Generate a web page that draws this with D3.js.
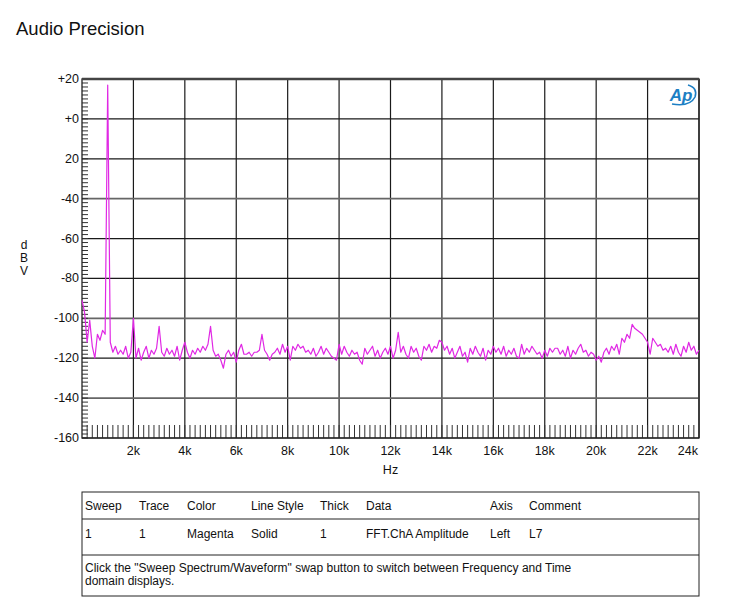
<!DOCTYPE html>
<html lang="en">
  <head>
    <meta charset="utf-8">
    <title>Audio Precision</title>
    <script src="https://cdn.jsdelivr.net/npm/d3@7"></script>
    <style>
      body { margin: 0; background: #fff; }
      text { font-family: 'Liberation Sans', Arial, sans-serif; fill: #111; }
    </style>
  </head>

  <body>
    <div id='chart'></div>

    <script type='text/javascript'>
      // FFT amplitude, one value every 100 Hz from 0 to 24 kHz (dBV)
      let freqStep = 100
      let levels = [
        -91, -97, -112, -101, -114, -120, -108, -111, -106, -108,
        17, -112, -117, -114, -118, -116, -118, -114, -120, -117,
        -100, -120, -115, -121, -117, -114, -120, -116, -118, -115,
        -104, -117, -119, -115, -118, -116, -119, -114, -121, -116,
        -112, -117, -120, -116, -118, -115, -117, -114, -116, -113,
        -104, -116, -119, -118, -121, -125, -118, -116, -119, -117,
        -122, -116, -113, -118, -118, -117, -119, -117, -117, -116,
        -108, -116, -118, -121, -118, -117, -115, -118, -113, -117,
        -114, -121, -114, -116, -113, -115, -114, -117, -116, -118,
        -115, -119, -117, -114, -118, -115, -117, -119, -120, -121,
        -113, -118, -114, -117, -119, -116, -118, -117, -121, -123,
        -115, -118, -116, -114, -119, -116, -120, -117, -115, -118,
        -114, -120, -116, -107, -117, -114, -118, -120, -114, -117,
        -115, -119, -121, -114, -116, -113, -117, -114, -115, -111,
        -112, -116, -114, -118, -115, -120, -117, -114, -119, -117,
        -122, -115, -118, -114, -117, -119, -115, -121, -116, -118,
        -114, -117, -115, -118, -114, -119, -116, -118, -115, -119,
        -120, -113, -118, -115, -117, -114, -116, -118, -117, -120,
        -116, -119, -115, -117, -115, -115, -118, -116, -119, -114,
        -120, -116, -118, -115, -113, -117, -116, -119, -117, -118,
        -121, -119, -122, -117, -115, -118, -114, -116, -113, -118,
        -110, -112, -108, -110, -103, -105, -106, -107, -108, -110,
        -112, -118, -110, -112, -114, -113, -116, -115, -117, -114,
        -118, -113, -117, -119, -114, -117, -112, -116, -114, -118,
        -116
      ]

      let yTicks = [20, 0, -20, -40, -60, -80, -100, -120, -140, -160]
      let yTickLabels = ['+20', '+0', '20', '-40', '-60', '-80', '-100', '-120', '-140', '-160']
      let xTicks = [2000, 4000, 6000, 8000, 10000, 12000, 14000, 16000, 18000, 20000, 22000, 24000]
      let xTickLabels = ['2k', '4k', '6k', '8k', '10k', '12k', '14k', '16k', '18k', '20k', '22k', '24k']

      let tableHeader = ['Sweep', 'Trace', 'Color', 'Line Style', 'Thick', 'Data', 'Axis', 'Comment']
      let tableRow = ['1', '1', 'Magenta', 'Solid', '1', 'FFT.ChA Amplitude', 'Left', 'L7']
      let noteLines = ['Click the "Sweep Spectrum/Waveform" swap button to switch between Frequency and Time',
                       'domain displays.']

      let width = 750
      let height = 613
      let plotLeft = 82, plotRight = 699, plotTop = 79, plotBottom = 438

      let canvas = d3.select('#chart').append('svg')
        .attr('width', width)
        .attr('height', height)

      let scale_x = d3.scaleLinear()
          .domain([0, 24000])
          .range([plotLeft, plotRight])
      let scale_y = d3.scaleLinear()
          .domain([-160, 20])
          .range([plotBottom, plotTop])

      canvas.append('text')
        .attr('x', 16)
        .attr('y', 35)
        .attr('font-size', '18.5px')
        .text('Audio Precision')

      // grid
      canvas.selectAll('line.vgrid')
        .data(xTicks)
        .enter()
        .append('line')
        .attr('x1', (d) => scale_x(d))
        .attr('x2', (d) => scale_x(d))
        .attr('y1', plotTop)
        .attr('y2', plotBottom)
        .attr('stroke', '#1a1a1a')
        .attr('stroke-width', 1.2)
      canvas.selectAll('line.hgrid')
        .data(yTicks)
        .enter()
        .append('line')
        .attr('x1', plotLeft)
        .attr('x2', plotRight)
        .attr('y1', (d) => scale_y(d))
        .attr('y2', (d) => scale_y(d))
        .attr('stroke', (d) => (d == -40 || d == -100 || d == -140) ? '#666' : '#1a1a1a')
        .attr('stroke-width', (d) => (d == -40 || d == -100 || d == -140) ? 1.8 : 1.2)

      // minor ticks
      canvas.selectAll('line.ytick')
        .data(d3.range(-160, 21, 2))
        .enter()
        .append('line')
        .attr('x1', plotLeft)
        .attr('x2', plotLeft + 6)
        .attr('y1', (d) => scale_y(d))
        .attr('y2', (d) => scale_y(d))
        .attr('stroke', '#333')
        .attr('stroke-width', 1)
      canvas.selectAll('line.xtick')
        .data(d3.range(200, 24000, 200))
        .enter()
        .append('line')
        .attr('x1', (d) => scale_x(d))
        .attr('x2', (d) => scale_x(d))
        .attr('y1', plotBottom)
        .attr('y2', plotBottom - 13)
        .attr('stroke', '#333')
        .attr('stroke-width', 1)

      // frame
      canvas.append('rect')
        .attr('x', plotLeft)
        .attr('y', plotTop)
        .attr('width', plotRight - plotLeft)
        .attr('height', plotBottom - plotTop)
        .attr('fill', 'none')
        .attr('stroke', '#222')
        .attr('stroke-width', 1.3)
      canvas.append('line')
        .attr('x1', plotLeft).attr('x2', plotRight)
        .attr('y1', plotTop).attr('y2', plotTop)
        .attr('stroke', '#444')
        .attr('stroke-width', 2.5)

      // tick labels
      canvas.selectAll('text.ylab')
        .data(yTicks)
        .enter()
        .append('text')
        .attr('x', plotLeft - 3)
        .attr('y', (d) => scale_y(d) + 4)
        .attr('text-anchor', 'end')
        .attr('font-size', '12.5px')
        .text((d, i) => yTickLabels[i])
      canvas.selectAll('text.xlab')
        .data(xTicks)
        .enter()
        .append('text')
        .attr('x', (d) => d == 24000 ? scale_x(d) - 1 : scale_x(d))
        .attr('y', plotBottom + 17)
        .attr('text-anchor', (d) => d == 24000 ? 'end' : 'middle')
        .attr('font-size', '12.5px')
        .text((d, i) => xTickLabels[i])

      canvas.append('text')
        .attr('x', scale_x(12000))
        .attr('y', 474)
        .attr('text-anchor', 'middle')
        .attr('font-size', '12.5px')
        .text('Hz')
      canvas.selectAll('text.unit')
        .data(['d', 'B', 'V'])
        .enter()
        .append('text')
        .attr('x', 24)
        .attr('y', (d, i) => 249 + i * 13)
        .attr('text-anchor', 'middle')
        .attr('font-size', '12px')
        .text((d) => d)

      // AP logo
      let logo = canvas.append('g').attr('transform', 'translate(682,95)')
      logo.append('path')
        .attr('d', 'M -10 9 Q 8 12 13 2 Q 16 -7 6 -10')
        .attr('fill', 'none')
        .attr('stroke', '#1d7fc4')
        .attr('stroke-width', 1.6)
      logo.append('text')
        .attr('x', -1)
        .attr('y', 6)
        .attr('text-anchor', 'middle')
        .attr('font-size', '17px')
        .attr('font-style', 'italic')
        .attr('font-weight', 'bold')
        .style('fill', '#1d7fc4')
        .text('Ap')

      // trace
      let line = d3.line()
        .x((d, i) => scale_x(i * freqStep))
        .y((d) => scale_y(d))
      canvas.append('path')
        .datum(levels)
        .attr('d', line)
        .attr('fill', 'none')
        .attr('stroke', '#e028e4')
        .attr('stroke-width', 1.2)
        .attr('stroke-linejoin', 'round')

      // legend table
      let tTop = 492, tRow1 = 519, tRow2 = 555, tBottom = 596
      let colX = [85, 139, 187, 251, 320, 366, 490, 529]
      canvas.append('rect')
        .attr('x', plotLeft)
        .attr('y', tTop)
        .attr('width', plotRight - plotLeft)
        .attr('height', tBottom - tTop)
        .attr('fill', 'none')
        .attr('stroke', '#222')
        .attr('stroke-width', 1)
      canvas.selectAll('line.trow')
        .data([tRow1, tRow2])
        .enter()
        .append('line')
        .attr('x1', plotLeft).attr('x2', plotRight)
        .attr('y1', (d) => d).attr('y2', (d) => d)
        .attr('stroke', '#222')
        .attr('stroke-width', 1)
      canvas.selectAll('text.thead')
        .data(tableHeader)
        .enter()
        .append('text')
        .attr('x', (d, i) => colX[i])
        .attr('y', 510)
        .attr('font-size', '12px')
        .text((d) => d)
      canvas.selectAll('text.trow1')
        .data(tableRow)
        .enter()
        .append('text')
        .attr('x', (d, i) => colX[i])
        .attr('y', 538)
        .attr('font-size', '12px')
        .text((d) => d)
      canvas.selectAll('text.note')
        .data(noteLines)
        .enter()
        .append('text')
        .attr('x', 85)
        .attr('y', (d, i) => 572 + i * 13)
        .attr('font-size', '12px')
        .text((d) => d)
    </script>
  </body>
</html>
